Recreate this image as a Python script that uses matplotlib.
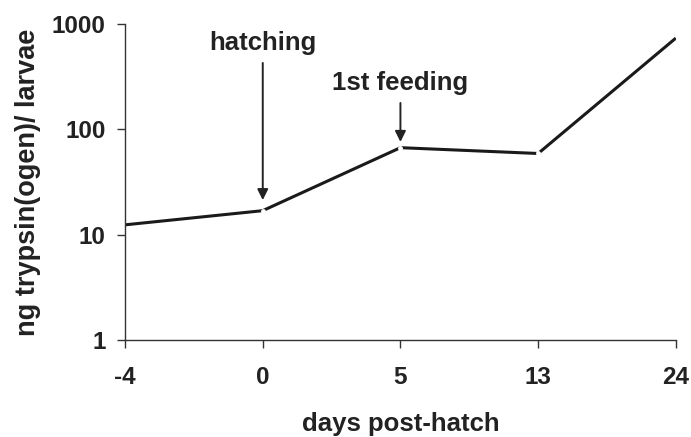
import matplotlib.pyplot as plt
import numpy as np

# days post-hatch (categorical, equally spaced on the axis)
days = ["-4", "0", "5", "13", "24"]
# ng trypsin(ogen) per larva
trypsin = [12.4, 16.9, 67, 59, 735]

plt.rcParams['font.family'] = ['Liberation Sans', 'DejaVu Sans']
ink = '#222222'

fig = plt.figure(figsize=(6.91, 4.37), dpi=100)
ax = fig.add_axes([0.181, 0.222, 0.797, 0.723])

x = np.arange(len(days))
ax.plot(x, trypsin, color='#1a1a1a', lw=2.2, solid_capstyle='butt', zorder=2)
# small breaks in the line at the inner points, as in the original
ax.plot(x[1:-1], trypsin[1:-1], 'o', ms=3.5, mfc='white', mec='none', zorder=3)

ax.set_yscale('log')
ax.set_ylim(1, 1000)
ax.set_xlim(0, len(days) - 1)
ax.set_yticks([1, 10, 100, 1000])
ax.set_yticklabels(["1", "10", "100", "1000"])
ax.yaxis.set_minor_locator(plt.NullLocator())
ax.set_xticks(x)
ax.set_xticklabels(days)

for s in ['top', 'right']:
    ax.spines[s].set_visible(False)
for s in ['left', 'bottom']:
    ax.spines[s].set_linewidth(1.0)
    ax.spines[s].set_color('#333333')
ax.tick_params(axis='both', direction='out', length=6, width=1, color='#333333')
ax.tick_params(axis='y', labelsize=17.5, pad=8, labelcolor=ink)
ax.tick_params(axis='x', labelsize=17.5, pad=13, labelcolor=ink)
for lab in ax.get_yticklabels() + ax.get_xticklabels():
    lab.set_fontweight('bold')

ax.set_ylabel("ng trypsin(ogen)/ larvae", fontsize=19.5, fontweight='bold', color=ink, labelpad=8)
ax.set_xlabel("days post-hatch", fontsize=18.5, fontweight='bold', color=ink, labelpad=16)

# annotations: labels and arrows pointing at hatching and first feeding
arrow = dict(arrowstyle='-|>', color=ink, lw=1.4, mutation_scale=16, shrinkA=0, shrinkB=0)
ax.text(1, 567, "hatching", ha='center', va='baseline', fontsize=18.5, fontweight='bold', color=ink)
ax.annotate("", xy=(1, 21.3), xytext=(1, 427), arrowprops=arrow)
ax.text(2, 237, "1st feeding", ha='center', va='baseline', fontsize=18.5, fontweight='bold', color=ink)
ax.annotate("", xy=(2, 76), xytext=(2, 178), arrowprops=arrow)

fig.savefig("out.png", dpi=100)
